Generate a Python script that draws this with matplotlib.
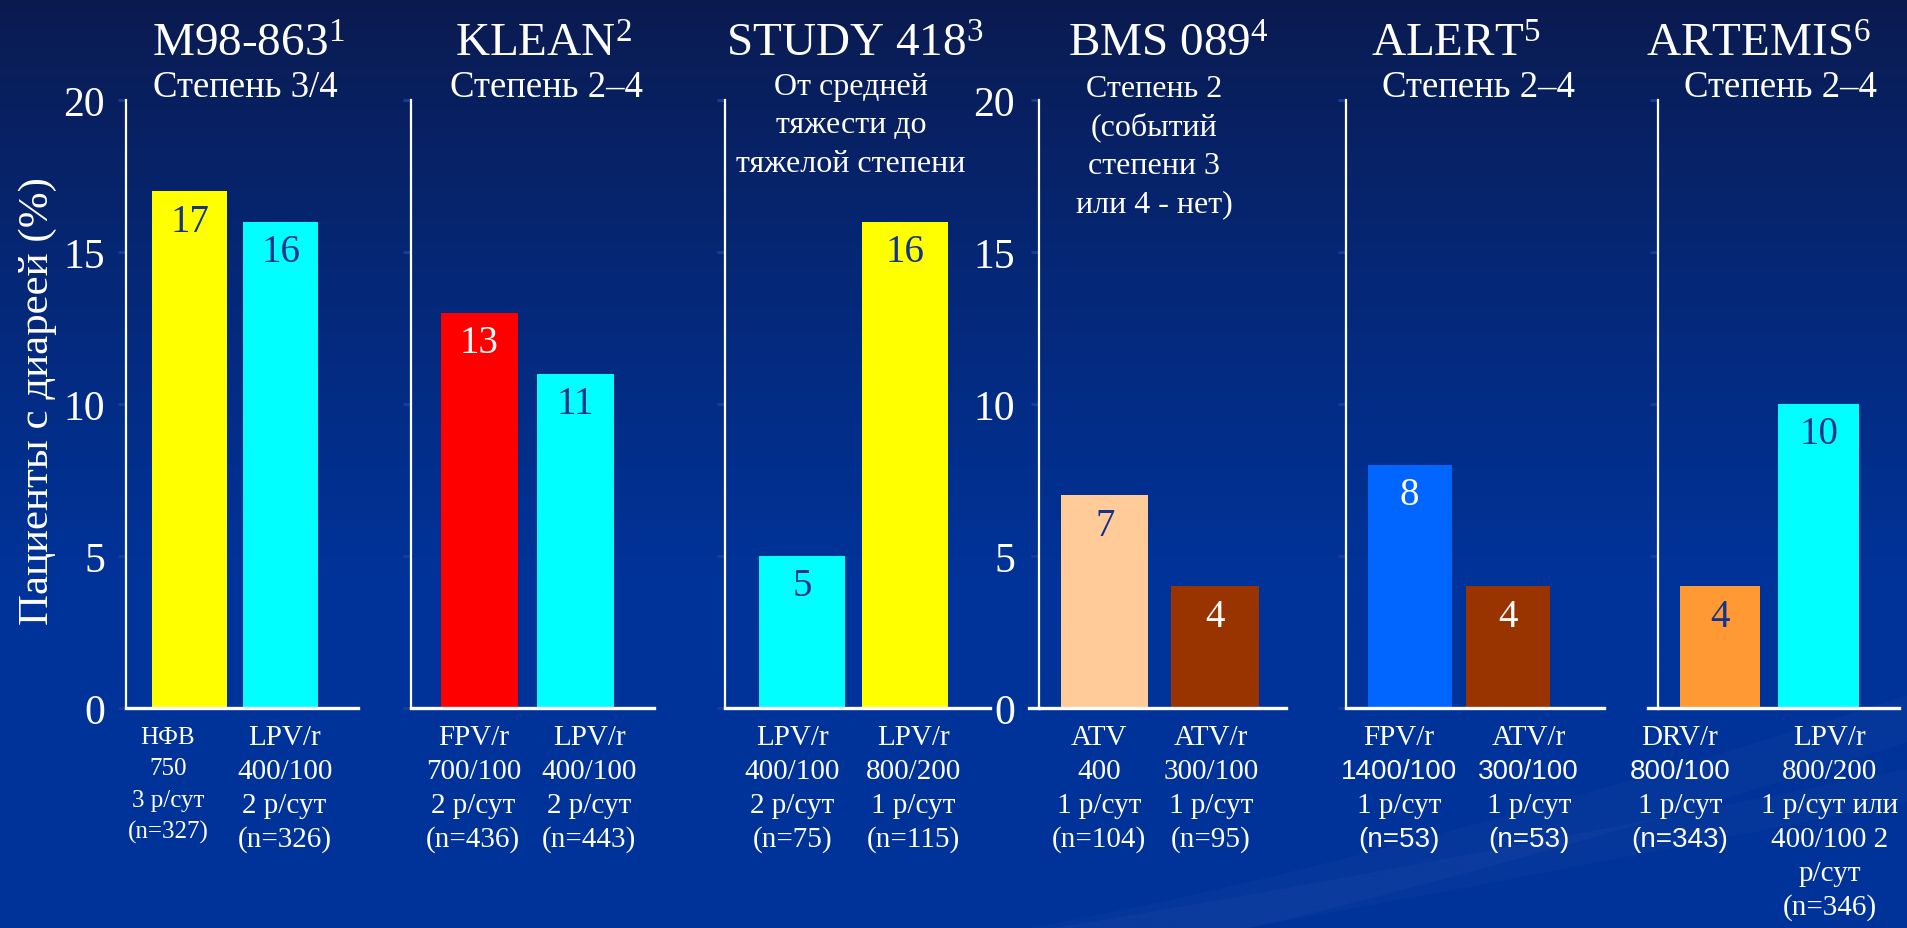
import numpy as np
import matplotlib
matplotlib.use('Agg')
import matplotlib.pyplot as plt
from matplotlib.transforms import IdentityTransform

plt.rcParams['font.family'] = ['Liberation Serif', 'DejaVu Serif']
plt.rcParams['mathtext.fontset'] = 'custom'
plt.rcParams['mathtext.rm'] = 'Liberation Serif'
plt.rcParams['mathtext.it'] = 'Liberation Serif:italic'

# ---------------- данные ----------------
studies = ['M98-863', 'KLEAN', 'STUDY 418', 'BMS 089', 'ALERT', 'ARTEMIS']
refs = ['1', '2', '3', '4', '5', '6']
grades = [
    ['Степень 3/4'],
    ['Степень 2–4'],
    ['От средней', 'тяжести до', 'тяжелой степени'],
    ['Степень 2', '(событий', 'степени 3', 'или 4 - нет)'],
    ['Степень 2–4'],
    ['Степень 2–4'],
]
values = [[17, 16], [13, 11], [5, 16], [7, 4], [8, 4], [4, 10]]
bar_colors = [
    ['#FFFF00', '#00FFFF'],
    ['#FF0000', '#00FFFF'],
    ['#00FFFF', '#FFFF00'],
    ['#FFCC99', '#993300'],
    ['#0066FF', '#993300'],
    ['#FF9933', '#00FFFF'],
]
arms = [
    [['НФВ', '750', '3 р/сут', '(n=327)'], ['LPV/r', '400/100', '2 р/сут', '(n=326)']],
    [['FPV/r', '700/100', '2 р/сут', '(n=436)'], ['LPV/r', '400/100', '2 р/сут', '(n=443)']],
    [['LPV/r', '400/100', '2 р/сут', '(n=75)'], ['LPV/r', '800/200', '1 р/сут', '(n=115)']],
    [['ATV', '400', '1 р/сут', '(n=104)'], ['ATV/r', '300/100', '1 р/сут', '(n=95)']],
    [['FPV/r', '1400/100', '1 р/сут', '(n=53)'], ['ATV/r', '300/100', '1 р/сут', '(n=53)']],
    [['DRV/r', '800/100', '1 р/сут', '(n=343)'],
     ['LPV/r', '800/200', '1 р/сут или', '400/100 2', 'р/сут', '(n=346)']],
]
# строки, набранные рубленым шрифтом (панель, группа, номер строки)
sans_lines = {(4, 0, 1), (4, 0, 3), (4, 1, 1), (4, 1, 3), (5, 0, 1), (5, 0, 3)}
yticks = [0, 5, 10, 15, 20]
ylabel = 'Пациенты с диареей (%)'

# ---------------- разметка (пиксели) ----------------
W, H = 1907, 929
Y_ZERO, Y_TOP = 709, 101
panel_px = [(125.7, 357.5), (411.4, 653.6), (724.7, 989.6),
            (1038.6, 1286.2), (1345.5, 1604.0), (1658.0, 1899.0)]
xlims = [(-0.707, 1.848), (-0.707, 1.816), (-0.754, 1.817),
         (-0.599, 1.645), (-0.655, 1.982), (-0.627, 1.81)]
bar_w = [0.83, 0.80, 0.835, 0.79, 0.86, 0.817]
title_x = [248, 544, 855, 1168, 1456, 1759]
grade_x = [245, 546, 851, 1154, 1478, 1780]
grade_base = [97, 97, 95, 97, 97, 97]
# сдвиг подписей групп относительно центра столбца, px
label_dx = [(-22, 4), (-6, 14), (-10, 8), (-6, -4), (-11, 21), (-40, 11)]
with_yticks = {0: 9, 3: 11}

NAVY_TXT = '#15338a'
TICK_C = '#1c3c9c'
DARK = {'#FF0000', '#993300', '#0066FF'}

fig = plt.figure(figsize=(W / 100, H / 100), dpi=100)

# фон: вертикальный градиент + пара бледных полос справа внизу
bg = fig.add_axes([0, 0, 1, 1])
bg.axis('off')
t = np.linspace(0, 1, 500)[:, None]
ramp = np.clip(t / 0.62, 0, 1) ** 0.85
top = np.array([11, 26, 78]) / 255
bot = np.array([0, 51, 153]) / 255
img = top[None, None, :] + (bot - top)[None, None, :] * ramp[..., None]
bg.imshow(img, aspect='auto', extent=[0, 1, 0, 1], zorder=0)
xs = np.linspace(0.5, 1, 120)
lo = -0.06 + 0.62 * (xs - 0.5) ** 1.25
bg.fill_between(xs, lo, lo + 0.05, color='white', alpha=0.025, lw=0, zorder=1)
lo2 = -0.05 + 0.4 * (xs - 0.5) ** 1.1
bg.fill_between(xs, lo2, lo2 + 0.035, color='white', alpha=0.022, lw=0, zorder=1)
bg.set_xlim(0, 1)
bg.set_ylim(0, 1)

px = IdentityTransform()

for i, (l, r) in enumerate(panel_px):
    ax = fig.add_axes([l / W, (H - Y_ZERO) / H, (r - l) / W, (Y_ZERO - Y_TOP) / H])
    ax.patch.set_alpha(0)
    pos = np.arange(len(values[i]))
    ax.bar(pos, values[i], width=bar_w[i], color=bar_colors[i], zorder=2)
    ax.set_xlim(*xlims[i])
    ax.set_ylim(0, 20)

    for sp in ['top', 'right']:
        ax.spines[sp].set_visible(False)
    ax.spines['left'].set_color('white')
    ax.spines['left'].set_linewidth(1.6)
    ax.spines['bottom'].set_color('white')
    ax.spines['bottom'].set_linewidth(2.4)
    ax.spines['bottom'].set_zorder(3)

    ax.set_xticks([])
    ax.set_yticks(yticks)
    ax.tick_params(axis='y', colors=TICK_C, length=6, width=2, direction='out')
    if i in with_yticks:
        ax.tick_params(axis='y', labelcolor='white', labelsize=30, pad=with_yticks[i])
    else:
        ax.tick_params(axis='y', labelleft=False)
    if i in (3, 5):
        ax.axhline(0, xmin=-0.04, xmax=0, color='white', lw=2.4, clip_on=False)

    # значения внутри столбцов
    for p, v, c in zip(pos, values[i], bar_colors[i]):
        ax.annotate(str(v), xy=(p, v), xytext=(0, -30), textcoords='offset pixels',
                    ha='center', va='center', fontsize=28,
                    color='white' if c in DARK else NAVY_TXT)

    # подписи групп под осью
    for j, lines in enumerate(arms[i]):
        small = (i == 0 and j == 0)
        step = 31.5 if small else 34
        for k, s in enumerate(lines):
            sans = (i, j, k) in sans_lines
            ax.annotate(s, xy=(pos[j], 0), xycoords=('data', 'axes fraction'),
                        xytext=(label_dx[i][j], -(29 + step * k)),
                        textcoords='offset pixels', ha='center', va='center',
                        fontsize=18 if small else (20 if sans else 21), color='white',
                        family='Liberation Sans' if sans else 'Liberation Serif')

    # заголовки исследований
    fig.text(title_x[i], H - 57, studies[i] + r'$^{\mathrm{' + refs[i] + '}}$',
             transform=px, ha='center', va='baseline', fontsize=34, color='white')
    multi = len(grades[i]) > 1
    for k, s in enumerate(grades[i]):
        fig.text(grade_x[i], H - grade_base[i] - 38.5 * k, s, transform=px,
                 ha='center', va='baseline', fontsize=23 if multi else 26.5,
                 color='white')

fig.text(38, H - 401, ylabel, transform=px, rotation=90, ha='center', va='center',
         fontsize=31, color='white')

fig.savefig('out.png', dpi=100)
